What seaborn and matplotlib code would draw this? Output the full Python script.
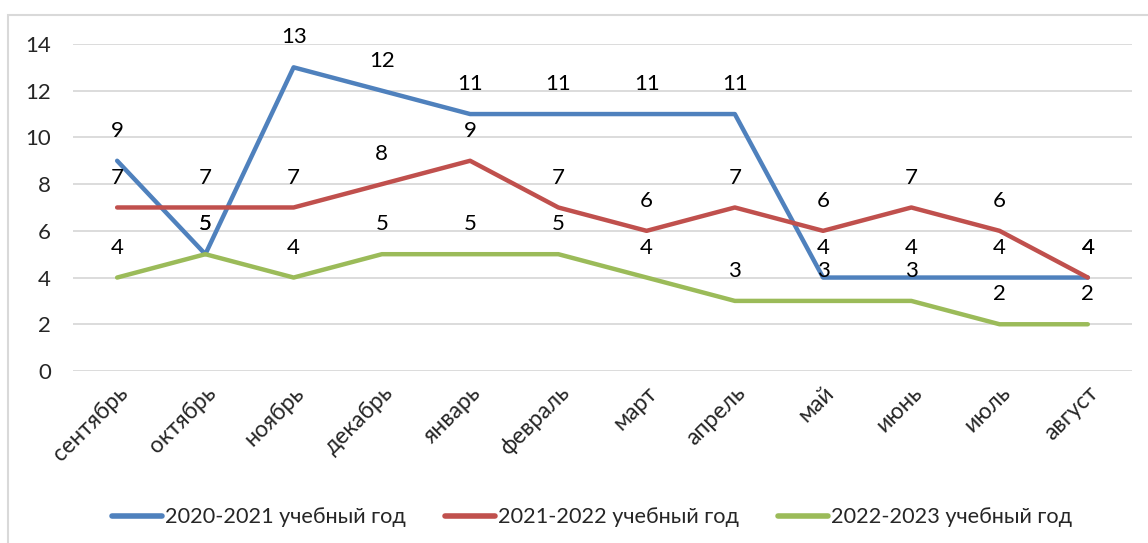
import pandas as pd
import matplotlib
matplotlib.use("Agg")
import matplotlib.pyplot as plt
import seaborn as sns

# data
months = ["сентябрь", "октябрь", "ноябрь", "декабрь", "январь", "февраль",
          "март", "апрель", "май", "июнь", "июль", "август"]
series_names = ["2020-2021 учебный год", "2021-2022 учебный год", "2022-2023 учебный год"]
y2020 = [9, 5, 13, 12, 11, 11, 11, 11, 4, 4, 4, 4]
y2021 = [7, 7, 7, 8, 9, 7, 6, 7, 6, 7, 6, 4]
y2022 = [4, 5, 4, 5, 5, 5, 4, 3, 3, 3, 2, 2]
colors = ["#4F81BD", "#C0504D", "#9BBB59"]

sns.set_theme(style="white")
plt.rcParams["font.family"] = ["Lato", "DejaVu Sans"]

rows = []
for name, vals in zip(series_names, [y2020, y2021, y2022]):
    for m, v in zip(months, vals):
        rows.append({"month": m, "value": v, "series": name})
df = pd.DataFrame(rows)

fig = plt.figure(figsize=(11.48, 5.43), dpi=100)
ax = fig.add_axes([0.0636, 0.3168, 0.9224, 0.6022])

sns.lineplot(data=df, x="month", y="value", hue="series", palette=colors,
             linewidth=3.2, sort=False, ax=ax, solid_capstyle="round")

# data labels above each point
for name in series_names:
    sub = df[df["series"] == name]
    for i, v in enumerate(sub["value"]):
        ax.annotate(str(v), (i, v), xytext=(0, 21.5), textcoords="offset points",
                    ha="center", va="center", fontsize=16, color="black")

ax.set_xlim(-0.5, len(months) - 0.5)
ax.set_ylim(0, 14)
ax.set_yticks(range(0, 15, 2))
ax.yaxis.grid(True, color="#D9D9D9", linewidth=1.3)
ax.set_axisbelow(True)
for s in ax.spines.values():
    s.set_visible(False)
ax.set_xlabel("")
ax.set_ylabel("")
ax.tick_params(axis="y", length=0, pad=16, labelsize=16)
ax.tick_params(axis="x", length=0, pad=8, labelsize=16.5)
plt.setp(ax.get_xticklabels(), rotation=45, ha="right", va="top",
         rotation_mode="anchor")

leg = ax.legend(loc="upper center", bbox_to_anchor=(0.49, -0.357), ncol=3,
                frameon=False, fontsize=15.6, handlelength=2.3, handletextpad=0.15,
                columnspacing=1.8)
for line in leg.get_lines():
    line.set_linewidth(4)
    line.set_solid_capstyle("round")

# outer chart border
fig.add_artist(plt.Rectangle((8 / 1148, -0.01), 1.1, 1 - 15 / 543 + 0.01,
                             transform=fig.transFigure, fill=False,
                             edgecolor="#D9D9D9", linewidth=1.5))

fig.savefig("out.png", dpi=100)
